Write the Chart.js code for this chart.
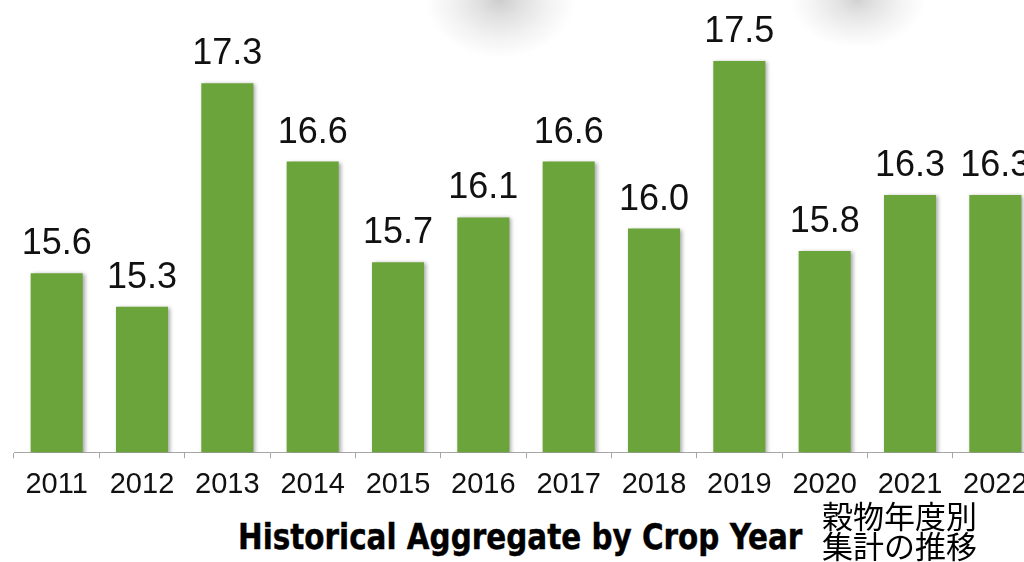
<!DOCTYPE html>
<html>
<head>
<meta charset="utf-8">
<script src="https://cdn.jsdelivr.net/npm/chart.js@4"></script>
<style>
  html, body { margin: 0; padding: 0; background: #fff; overflow: hidden; }
  body { width: 1024px; height: 562px; position: relative; }
  #wrap { position: absolute; left: 0; top: 0; width: 1040px; height: 511px; }
  .blob { position: absolute; top: 0; }
  #titulo { position: absolute; left: 238px; top: 517px; font-family: "Liberation Sans Narrow", "DejaVu Sans Condensed", sans-serif;
            font-weight: bold; font-size: 35px; color: #000; white-space: nowrap;
            transform: scaleX(0.935); transform-origin: left top; -webkit-text-stroke: 0.4px #000; }
  #titulo_jp { position: absolute; left: 822px; top: 500px; font-family: "Noto Sans CJK JP", sans-serif;
               font-size: 31px; line-height: 30px; color: #000; white-space: nowrap; }
</style>
</head>
<body>
<div class="blob" style="left:425px; width:150px; height:58px; background:radial-gradient(ellipse 50% 100% at 50% 0%, rgba(205,205,205,1) 0%, rgba(225,225,225,1) 30%, rgba(242,242,242,1) 65%, rgba(255,255,255,1) 100%);"></div>
<div class="blob" style="left:790px; width:135px; height:48px; background:radial-gradient(ellipse 50% 100% at 50% 0%, rgba(210,210,210,1) 0%, rgba(228,228,228,1) 30%, rgba(243,243,243,1) 65%, rgba(255,255,255,1) 100%);"></div>
<div id="wrap"><canvas id="grafico"></canvas></div>
<div id="titulo">Historical Aggregate by Crop Year</div>
<div id="titulo_jp">穀物年度別<br>集計の推移</div>
<script>
const anos = ['2011', '2012', '2013', '2014', '2015', '2016', '2017', '2018', '2019', '2020', '2021', '2022'];
const valores = [15.6, 15.3, 17.3, 16.6, 15.7, 16.1, 16.6, 16.0, 17.5, 15.8, 16.3, 16.3];
const eixoMin = 14;
const eixoMax = 18;

// rotulos em cima das barras + sombra leve
const rotulos = {
    id: 'rotulos',
    beforeDatasetsDraw(chart) {
        const ctx = chart.ctx;
        ctx.save();
        ctx.shadowColor = 'rgba(0,0,0,0.35)';
        ctx.shadowBlur = 4;
        ctx.shadowOffsetX = 2;
        ctx.shadowOffsetY = 1;
    },
    afterDatasetsDraw(chart) {
        const ctx = chart.ctx;
        ctx.restore();
        ctx.save();
        ctx.font = '36px "Liberation Sans", Arial, sans-serif';
        ctx.fillStyle = '#111';
        ctx.textAlign = 'center';
        ctx.textBaseline = 'alphabetic';
        chart.getDatasetMeta(0).data.forEach((barra, i) => {
            ctx.fillText(valores[i].toFixed(1), barra.x, barra.y - 19);
        });
        ctx.restore();
    }
};

const ctx = document.getElementById('grafico');

new Chart(ctx, {
    type: 'bar',
    data: {
        labels: anos,
        datasets: [{
            data: valores,
            backgroundColor: '#6ba43a',
            borderWidth: 0,
            barPercentage: 0.61,
            categoryPercentage: 1
        }]
    },
    options: {
        responsive: true,
        maintainAspectRatio: false,
        animation: false,
        layout: { padding: { left: 14, right: 2, top: 5, bottom: 0 } },
        plugins: {
            legend: { display: false },
            tooltip: { enabled: false }
        },
        scales: {
            x: {
                grid: { display: true, drawOnChartArea: false, drawTicks: true, tickLength: 6, color: '#a6a6a6' },
                border: { display: true, color: '#a6a6a6', width: 1 },
                ticks: {
                    color: '#111',
                    padding: 9,
                    maxRotation: 0,
                    autoSkip: false,
                    font: { family: '"Liberation Sans", Arial, sans-serif', size: 29 }
                }
            },
            y: {
                display: false,
                min: eixoMin,
                max: eixoMax
            }
        }
    },
    plugins: [rotulos]
});
</script>
</body>
</html>
